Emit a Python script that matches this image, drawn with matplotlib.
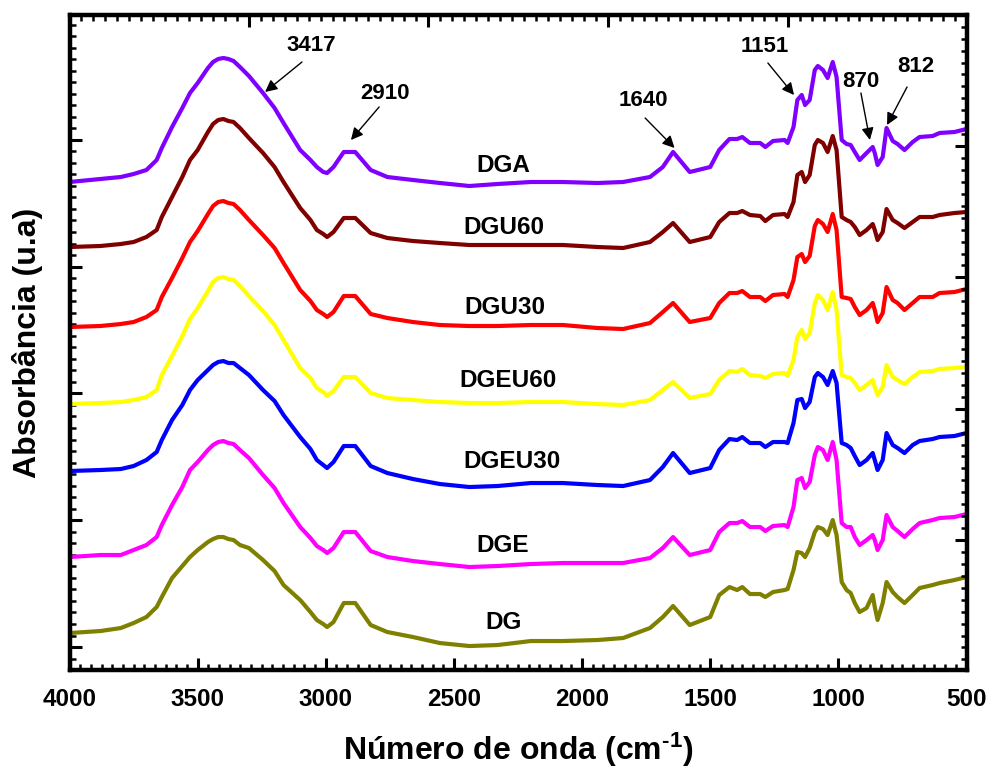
import matplotlib
matplotlib.use("Agg")
import matplotlib.pyplot as plt
from matplotlib.ticker import MultipleLocator, NullFormatter

plt.rcParams['font.family'] = ['Liberation Sans', 'DejaVu Sans']
plt.rcParams['font.weight'] = 'bold'
plt.rcParams['mathtext.fontset'] = 'custom'
plt.rcParams['mathtext.rm'] = 'Liberation Sans:bold'
plt.rcParams['mathtext.bf'] = 'Liberation Sans:bold'
plt.rcParams['mathtext.default'] = 'bf'

# numero de onda (cm-1), comum a todos os espectros
wavenumber = [4000, 3880, 3800, 3750, 3700, 3660, 3640, 3600, 3560, 3530,
              3500, 3460, 3440, 3420, 3400, 3380, 3360, 3335, 3300, 3245,
              3200, 3165, 3100, 3060, 3035, 3010, 2995, 2970, 2930, 2885,
              2825, 2760, 2660, 2555, 2440, 2330, 2200, 2075, 1940, 1840,
              1735, 1685, 1645, 1580, 1500, 1465, 1425, 1395, 1375, 1345,
              1305, 1285, 1255, 1210, 1198, 1175, 1160, 1143, 1130, 1112,
              1092, 1080, 1060, 1042, 1022, 1007, 987, 968, 952, 936,
              917, 890, 866, 858, 847, 827, 812, 788, 769, 742,
              710, 683, 632, 605, 547, 500]

# absorbancia (u.a), ja com o deslocamento vertical de cada curva
dga = [4.88, 4.91, 4.93, 4.96, 5.00, 5.10, 5.22, 5.43, 5.62, 5.77,
       5.87, 6.02, 6.08, 6.11, 6.12, 6.11, 6.09, 6.03, 5.94, 5.77,
       5.62, 5.47, 5.20, 5.10, 5.03, 4.98, 4.97, 5.03, 5.18, 5.18,
       5.00, 4.93, 4.90, 4.87, 4.84, 4.86, 4.88, 4.88, 4.87, 4.88,
       4.93, 5.03, 5.18, 4.98, 5.03, 5.20, 5.31, 5.31, 5.33, 5.27,
       5.27, 5.23, 5.29, 5.30, 5.27, 5.43, 5.70, 5.75, 5.65, 5.70,
       6.00, 6.04, 6.00, 5.92, 6.08, 5.93, 5.30, 5.26, 5.25, 5.18,
       5.10, 5.17, 5.23, 5.17, 5.05, 5.13, 5.42, 5.29, 5.26, 5.20,
       5.28, 5.33, 5.34, 5.37, 5.38, 5.41]
dgu60 = [4.23, 4.24, 4.26, 4.28, 4.33, 4.40, 4.53, 4.73, 4.93, 5.10,
         5.20, 5.38, 5.46, 5.50, 5.51, 5.49, 5.48, 5.42, 5.32, 5.17,
         5.03, 4.88, 4.62, 4.50, 4.40, 4.36, 4.33, 4.38, 4.52, 4.52,
         4.37, 4.32, 4.29, 4.27, 4.25, 4.25, 4.25, 4.25, 4.23, 4.22,
         4.28, 4.38, 4.47, 4.28, 4.33, 4.48, 4.57, 4.57, 4.59, 4.55,
         4.54, 4.49, 4.55, 4.56, 4.53, 4.68, 4.95, 4.98, 4.88, 4.95,
         5.25, 5.30, 5.27, 5.18, 5.34, 5.20, 4.53, 4.50, 4.48, 4.43,
         4.35, 4.40, 4.46, 4.40, 4.30, 4.38, 4.61, 4.50, 4.47, 4.42,
         4.48, 4.53, 4.53, 4.55, 4.57, 4.58]
dgu30 = [3.43, 3.44, 3.46, 3.48, 3.53, 3.60, 3.73, 3.92, 4.12, 4.28,
         4.39, 4.56, 4.64, 4.68, 4.69, 4.67, 4.66, 4.60, 4.50, 4.35,
         4.22, 4.07, 3.80, 3.69, 3.60, 3.56, 3.53, 3.58, 3.74, 3.74,
         3.56, 3.52, 3.48, 3.45, 3.44, 3.44, 3.45, 3.45, 3.42, 3.41,
         3.47, 3.58, 3.67, 3.48, 3.52, 3.67, 3.77, 3.77, 3.79, 3.73,
         3.73, 3.69, 3.75, 3.76, 3.73, 3.90, 4.13, 4.16, 4.08, 4.14,
         4.44, 4.50, 4.46, 4.38, 4.56, 4.40, 3.73, 3.72, 3.71, 3.63,
         3.55, 3.60, 3.67, 3.60, 3.48, 3.57, 3.83, 3.70, 3.67, 3.60,
         3.67, 3.73, 3.73, 3.77, 3.78, 3.81]
dgeu60 = [2.66, 2.67, 2.68, 2.70, 2.73, 2.80, 2.95, 3.14, 3.34, 3.51,
          3.62, 3.79, 3.88, 3.92, 3.93, 3.91, 3.90, 3.84, 3.74, 3.59,
          3.45, 3.30, 3.02, 2.92, 2.82, 2.78, 2.74, 2.79, 2.93, 2.93,
          2.77, 2.72, 2.70, 2.68, 2.67, 2.67, 2.68, 2.68, 2.66, 2.65,
          2.70, 2.80, 2.88, 2.72, 2.76, 2.90, 2.99, 2.98, 3.01, 2.95,
          2.94, 2.92, 2.96, 2.97, 2.94, 3.10, 3.33, 3.40, 3.31, 3.37,
          3.67, 3.75, 3.70, 3.60, 3.78, 3.60, 2.95, 2.93, 2.92, 2.87,
          2.80, 2.85, 2.90, 2.83, 2.75, 2.83, 3.05, 2.93, 2.90, 2.86,
          2.93, 2.98, 2.99, 3.01, 3.02, 3.03]
dgeu30 = [1.99, 2.00, 2.01, 2.04, 2.10, 2.18, 2.30, 2.50, 2.65, 2.80,
          2.90, 3.00, 3.05, 3.08, 3.09, 3.07, 3.07, 3.02, 2.95, 2.80,
          2.69, 2.55, 2.33, 2.21, 2.10, 2.05, 2.02, 2.08, 2.24, 2.24,
          2.04, 1.97, 1.91, 1.86, 1.83, 1.84, 1.87, 1.87, 1.85, 1.84,
          1.90, 2.03, 2.17, 1.97, 2.02, 2.20, 2.31, 2.30, 2.33, 2.27,
          2.27, 2.23, 2.28, 2.28, 2.27, 2.47, 2.70, 2.71, 2.62, 2.68,
          2.93, 2.97, 2.93, 2.85, 2.99, 2.87, 2.27, 2.25, 2.22, 2.14,
          2.05, 2.10, 2.17, 2.10, 2.00, 2.10, 2.37, 2.25, 2.22, 2.17,
          2.25, 2.29, 2.31, 2.33, 2.34, 2.37]
dge = [1.13, 1.15, 1.15, 1.20, 1.25, 1.33, 1.45, 1.65, 1.83, 2.00,
       2.08, 2.20, 2.25, 2.28, 2.29, 2.27, 2.26, 2.20, 2.12, 1.95,
       1.82, 1.67, 1.43, 1.32, 1.24, 1.20, 1.17, 1.22, 1.38, 1.38,
       1.19, 1.13, 1.09, 1.06, 1.03, 1.04, 1.06, 1.07, 1.07, 1.07,
       1.12, 1.22, 1.33, 1.15, 1.20, 1.38, 1.47, 1.47, 1.49, 1.43,
       1.43, 1.39, 1.44, 1.45, 1.43, 1.63, 1.90, 1.92, 1.82, 1.88,
       2.15, 2.23, 2.20, 2.10, 2.28, 2.10, 1.47, 1.43, 1.43, 1.33,
       1.25, 1.30, 1.35, 1.30, 1.20, 1.30, 1.55, 1.43, 1.39, 1.33,
       1.41, 1.47, 1.50, 1.52, 1.53, 1.56]
dg = [0.37, 0.39, 0.42, 0.47, 0.53, 0.63, 0.73, 0.92, 1.04, 1.13,
      1.20, 1.28, 1.31, 1.33, 1.33, 1.31, 1.30, 1.25, 1.22, 1.10,
      0.99, 0.85, 0.70, 0.58, 0.50, 0.46, 0.43, 0.48, 0.67, 0.67,
      0.45, 0.38, 0.33, 0.27, 0.24, 0.25, 0.29, 0.29, 0.30, 0.32,
      0.42, 0.53, 0.64, 0.45, 0.53, 0.75, 0.83, 0.80, 0.83, 0.76,
      0.76, 0.73, 0.78, 0.80, 0.81, 1.00, 1.18, 1.17, 1.13, 1.22,
      1.38, 1.43, 1.41, 1.35, 1.50, 1.35, 0.88, 0.80, 0.77, 0.67,
      0.58, 0.62, 0.75, 0.63, 0.50, 0.67, 0.88, 0.78, 0.73, 0.67,
      0.75, 0.82, 0.85, 0.87, 0.90, 0.93]

sample_names = ["DGA", "DGU60", "DGU30", "DGEU60", "DGEU30", "DGE", "DG"]
spectra = [dga, dgu60, dgu30, dgeu60, dgeu30, dge, dg]
colors = ["#8000FF", "#800000", "#FF0000", "#FFFF00", "#0000FF", "#FF00FF", "#808000"]
# posicao dos nomes (numero de onda, absorbancia)
name_x = [2308, 2304, 2300, 2289, 2273, 2308, 2308]
name_y = [5.05, 4.43, 3.63, 2.90, 2.09, 1.25, 0.48]

# bandas marcadas: texto, posicao do texto, inicio e ponta da seta
band_labels = ["3417", "2910", "1640", "1151", "870", "812"]
band_text = [(3058, 6.24), (2769, 5.76), (1762, 5.69), (1286, 6.23), (912, 5.88), (697, 6.03)]
band_tail = [(3093, 6.08), (2792, 5.63), (1754, 5.52), (1275, 6.07), (912, 5.77), (732, 5.83)]
band_tip = [(3237, 5.78), (2902, 5.30), (1639, 5.22), (1173, 5.75), (877, 5.30), (810, 5.45)]


def style_ticks(axis_obj, which_axis):
    axis_obj.tick_params(axis=which_axis, which="major", direction="in",
                         length=8.5, width=2.2, labelsize=17.5, pad=13)
    axis_obj.tick_params(axis=which_axis, which="minor", direction="in",
                         length=4.5, width=1.8)


def plot_spectra(filename="out.png"):
    fig = plt.figure(figsize=(9.92, 7.69), dpi=100)
    ax = fig.add_axes([0.0701, 0.1287, 0.9042, 0.8518])

    for y, c in zip(spectra, colors):
        ax.plot(wavenumber, y, color=c, lw=3, solid_joinstyle="round")

    for name, x, y in zip(sample_names, name_x, name_y):
        ax.text(x, y, name, ha="center", va="center", fontsize=17.5, fontweight="bold")

    for lab, t, a, b in zip(band_labels, band_text, band_tail, band_tip):
        ax.text(t[0], t[1], lab, ha="center", va="center", fontsize=16, fontweight="bold")
        ax.annotate("", xy=b, xytext=a,
                    arrowprops=dict(arrowstyle="-|>", color="k", lw=1,
                                    mutation_scale=18, shrinkA=0, shrinkB=0))

    ax.set_xlim(4000, 500)
    ax.set_ylim(0, 6.55)

    # eixo inferior e esquerdo
    ax.xaxis.set_major_locator(MultipleLocator(500))
    ax.xaxis.set_minor_locator(MultipleLocator(500 / 12))
    ax.yaxis.set_major_locator(MultipleLocator(1.268, offset=0.23))
    ax.yaxis.set_minor_locator(MultipleLocator(1.268 / 11, offset=0.23))
    ax.yaxis.set_major_formatter(NullFormatter())
    style_ticks(ax, "x")
    style_ticks(ax, "y")
    ax.tick_params(top=False, right=False, which="both")

    # eixo superior (escala propria)
    ax_top = ax.twiny()
    ax_top.set_xlim(ax.get_xlim())
    ax_top.xaxis.set_major_locator(MultipleLocator(701, offset=497))
    ax_top.xaxis.set_minor_locator(MultipleLocator(701 / 15, offset=497))
    ax_top.xaxis.set_major_formatter(NullFormatter())
    style_ticks(ax_top, "x")

    # eixo direito (escala propria)
    ax_right = ax.twinx()
    ax_right.set_ylim(ax.get_ylim())
    ax_right.yaxis.set_major_locator(MultipleLocator(1.313, offset=1.30))
    ax_right.yaxis.set_minor_locator(MultipleLocator(1.313 / 11, offset=1.30))
    ax_right.yaxis.set_major_formatter(NullFormatter())
    style_ticks(ax_right, "y")

    for a in (ax, ax_top, ax_right):
        for s in a.spines.values():
            s.set_linewidth(3)

    ax.set_xticks([4000, 3500, 3000, 2500, 2000, 1500, 1000, 500])
    ax.set_xticklabels(["4000", "3500", "3000", "2500", "2000", "1500", "1000", "500"])
    ax.set_xlabel(r"Número de onda (cm$^{\text{-1}}$)", fontsize=23, fontweight="bold", labelpad=14)
    ax.set_ylabel("Absorbância (u.a)", fontsize=23, fontweight="bold", labelpad=6)

    fig.savefig(filename, dpi=100)
    plt.close(fig)


def main():
    plot_spectra()


if __name__ == "__main__":
    main()
